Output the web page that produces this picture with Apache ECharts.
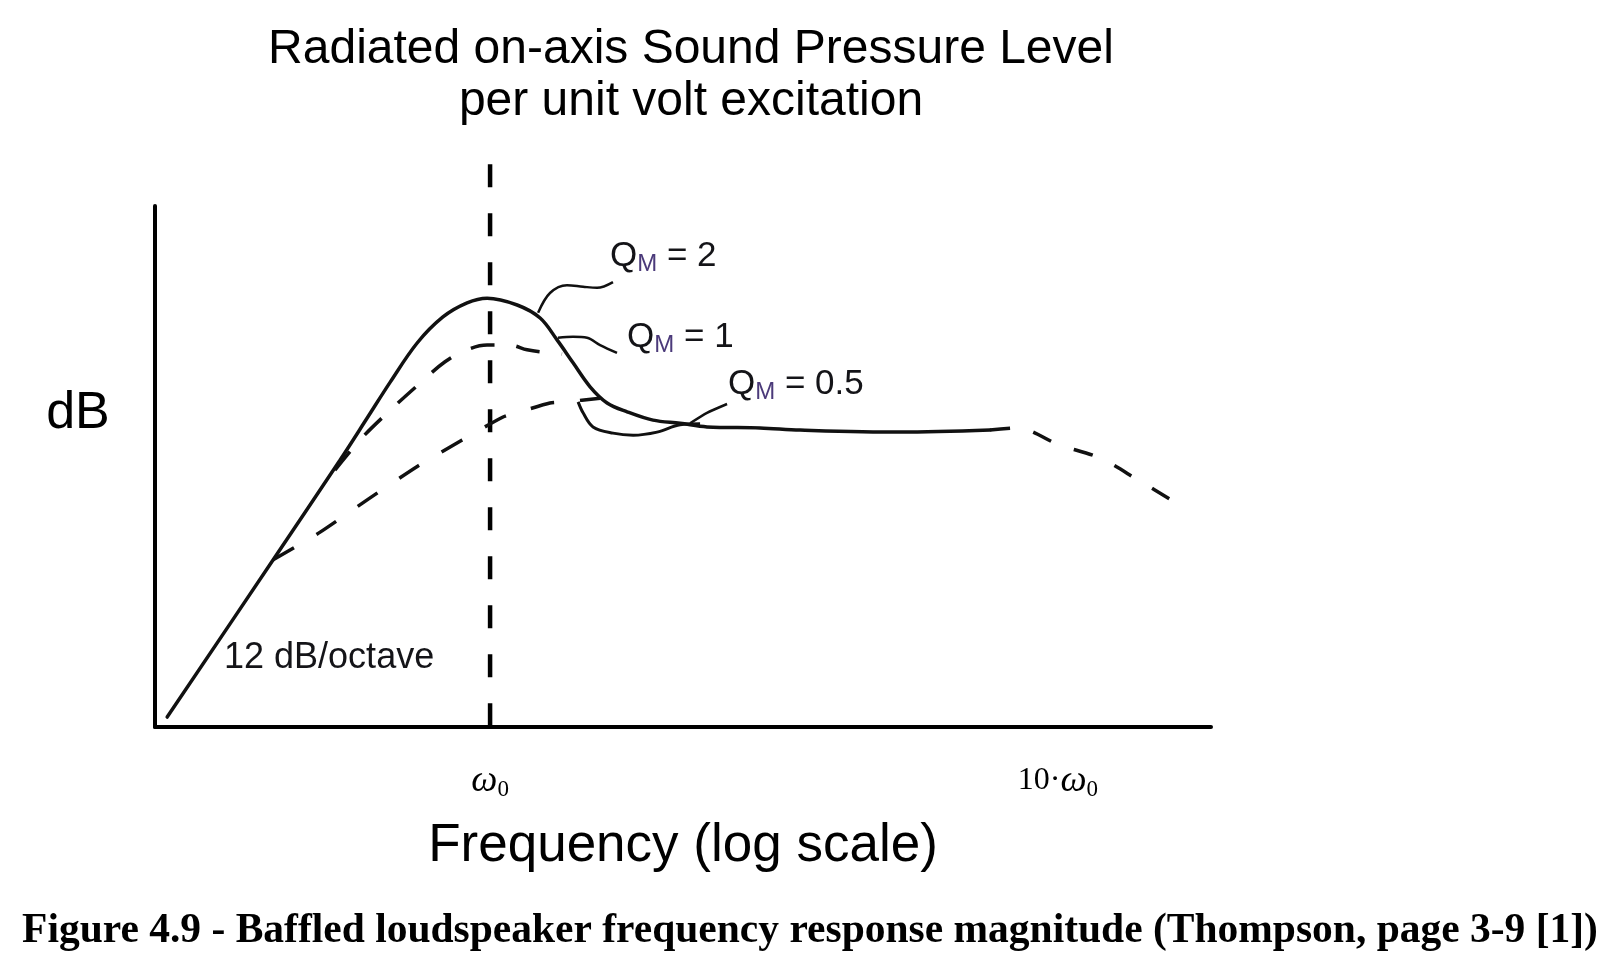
<!DOCTYPE html>
<html>
<head>
<meta charset="utf-8">
<script src="https://cdn.jsdelivr.net/npm/echarts@6/dist/echarts.min.js"></script>
<style>
  html, body { margin: 0; padding: 0; background: #fff; }
  #chart { width: 1616px; height: 966px; }
</style>
</head>
<body>
<div id="chart"></div>
<script>
// ---- data (frequency in multiples of ω0, level in arbitrary dB units 0..100) ----
const freqTicks = [1, 10];
const freqTickLabels = ['{w|ω}{s|0}', '{n|10·}{w|ω}{s|0}'];

const qm2Curve = [
  [0.270, 1.9], [0.415, 32.1], [0.544, 51.2], [0.6075, 59.3], [0.667, 66.2], [0.744, 73.7],
  [0.826, 78.7], [0.911, 81.4], [0.988, 82.3], [1.116, 81.0], [1.225, 78.5], [1.312, 74.3],
  [1.400, 69.9], [1.500, 65.3], [1.607, 62.2], [1.743, 60.5], [1.936, 58.9], [2.161, 58.3],
  [2.410, 57.6], [2.988, 57.4], [3.514, 57.0], [5.270, 56.6], [7.592, 57.0]
];
const rolloffTail = [[7.592, 57.0], [8.434, 57.4], [10.08, 54.1], [11.86, 51.6], [13.94, 47.2], [16.27, 42.8]];
const qm1Curve = [
  [0.533, 49.3], [0.590, 55.1], [0.667, 60.8], [0.753, 66.0], [0.833, 70.1], [0.911, 72.4],
  [0.988, 73.3], [1.084, 73.3], [1.162, 72.4], [1.275, 71.8], [1.339, 71.6]
];
const qm05Curve = [
  [0.415, 32.1], [0.502, 37.4], [0.6075, 43.6], [0.7466, 50.1], [0.893, 55.1], [1.054, 59.5],
  [1.129, 60.5], [1.275, 62.2], [1.356, 62.4], [1.562, 63.1]
];
const qm05Tail = [[1.429, 62.4], [1.458, 60.3], [1.518, 57.6], [1.646, 56.4], [1.786, 56.0], [1.968, 56.6], [2.161, 58.0], [2.343, 58.2]];
const leaderQm2 = [[1.215, 79.5], [1.275, 83.3], [1.366, 84.8], [1.458, 84.5], [1.543, 84.3], [1.646, 85.4]];
const leaderQm1 = [[1.317, 74.7], [1.400, 74.9], [1.482, 74.7], [1.562, 73.3], [1.673, 71.8]];
const leaderQm05 = [[2.25, 58.3], [2.410, 60.3], [2.614, 62.0]];
const resonanceMarker = [[1, 108], [1, -2]];
const qmValues = ['2', '1', '0.5'];
const qmLabelAnchors = [[1.626, 90.4], [1.743, 74.7], [2.624, 65.8]];
const slopeLabel = '12 dB/octave';
const slopeLabelAnchor = [0.340, 13.2];

// ---- chart ----
const chart = echarts.init(document.getElementById('chart'), null, { renderer: 'canvas' });
const INK = '#111111';
const SANS = '"Liberation Sans", Arial, sans-serif';
const SERIF = '"Liberation Serif", "Times New Roman", serif';

function lineSeries(name, data, opts) {
  return Object.assign({
    name: name, type: 'line', data: data, smooth: 0.35, symbol: 'none', silent: true,
    lineStyle: { color: INK, width: 3.5, type: 'solid', cap: 'round' }
  }, opts || {});
}

const qmLabelData = qmValues.map((q, i) => ({ value: qmLabelAnchors[i], q: q }));

const option = {
  animation: false,
  backgroundColor: '#ffffff',
  grid: { left: 155, right: 405, top: 206, bottom: 239, containLabel: false },
  xAxis: {
    type: 'log', logBase: 10, min: 0.257, max: 18.6,
    axisLine: { show: true, onZero: false, lineStyle: { color: '#000', width: 4 } },
    axisTick: { show: false }, splitLine: { show: false }, minorTick: { show: false },
    axisLabel: {
      show: true, margin: 34, showMinLabel: false, showMaxLabel: false,
      formatter: function (v) {
        for (let i = 0; i < freqTicks.length; i++) {
          if (Math.abs(v - freqTicks[i]) < 1e-6 * freqTicks[i]) return freqTickLabels[i];
        }
        return '';
      },
      rich: {
        w: { fontFamily: SERIF, fontStyle: 'italic', fontSize: 37, lineHeight: 40, color: '#000', verticalAlign: 'middle' },
        s: { fontFamily: SERIF, fontSize: 23, lineHeight: 20, color: '#000', verticalAlign: 'bottom' },
        n: { fontFamily: SERIF, fontSize: 32, lineHeight: 40, color: '#000', verticalAlign: 'middle' }
      }
    },
    name: 'Frequency (log scale)', nameLocation: 'middle', nameGap: 93,
    nameTextStyle: { fontFamily: SANS, fontSize: 53, color: '#000' }
  },
  yAxis: {
    type: 'value', min: 0, max: 100,
    axisLine: { show: true, lineStyle: { color: '#000', width: 4 } },
    axisTick: { show: false }, axisLabel: { show: false }, splitLine: { show: false }
  },
  graphic: [
    { type: 'text', x: 691, y: 50, style: { text: 'Radiated on-axis Sound Pressure Level', font: '48px ' + SANS, fill: '#000', align: 'center', verticalAlign: 'middle' } },
    { type: 'text', x: 691, y: 102, style: { text: 'per unit volt excitation', font: '48px ' + SANS, fill: '#000', align: 'center', verticalAlign: 'middle' } },
    { type: 'text', x: 78, y: 414, style: { text: 'dB', font: '52px ' + SANS, fill: '#000', align: 'center', verticalAlign: 'middle' } },
    { type: 'text', x: 810, y: 931, style: { text: 'Figure 4.9 - Baffled loudspeaker frequency response magnitude (Thompson, page 3-9 [1])', font: 'bold 41.5px ' + SERIF, fill: '#000', align: 'center', verticalAlign: 'middle' } }
  ],
  series: [
    lineSeries('resonance', resonanceMarker, { smooth: false, clip: false, lineStyle: { color: '#000', width: 4.5, type: [23, 26], cap: 'butt' } }),
    lineSeries('QM = 2', qm2Curve),
    lineSeries('rolloff', rolloffTail, { lineStyle: { color: INK, width: 3.5, type: [20, 24] } }),
    lineSeries('QM = 1', qm1Curve, { lineStyle: { color: INK, width: 3.5, type: [24, 22] } }),
    lineSeries('QM = 0.5', qm05Curve, { smooth: 0.2, lineStyle: { color: INK, width: 3.5, type: [24, 26] } }),
    lineSeries('QM = 0.5 tail', qm05Tail, { lineStyle: { color: INK, width: 3, type: 'solid' } }),
    lineSeries('leader QM=2', leaderQm2, { lineStyle: { color: INK, width: 2.5 } }),
    lineSeries('leader QM=1', leaderQm1, { lineStyle: { color: INK, width: 2.5 } }),
    lineSeries('leader QM=0.5', leaderQm05, { smooth: 0.2, lineStyle: { color: INK, width: 2.5 } }),
    {
      name: 'QM labels', type: 'scatter', symbolSize: 0, silent: true, data: qmLabelData,
      itemStyle: { opacity: 1 },
      label: {
        show: true, position: 'right', distance: 0, opacity: 1,
        formatter: function (p) { return '{q|Q}{m|M}{e| = ' + p.data.q + '}'; },
        rich: {
          q: { fontFamily: SANS, fontSize: 35, lineHeight: 40, color: '#141418', verticalAlign: 'middle' },
          m: { fontFamily: SANS, fontSize: 24, lineHeight: 22, color: '#4b3a7a', verticalAlign: 'bottom' },
          e: { fontFamily: SANS, fontSize: 35, lineHeight: 40, color: '#141418', verticalAlign: 'middle' }
        }
      }
    },
    {
      name: 'slope label', type: 'scatter', symbolSize: 0, silent: true, data: [slopeLabelAnchor],
      itemStyle: { opacity: 1 },
      label: { show: true, position: 'right', distance: 0, opacity: 1, formatter: slopeLabel, fontFamily: SANS, fontSize: 36, color: '#141418' }
    }
  ]
};
chart.setOption(option);
</script>
</body>
</html>
